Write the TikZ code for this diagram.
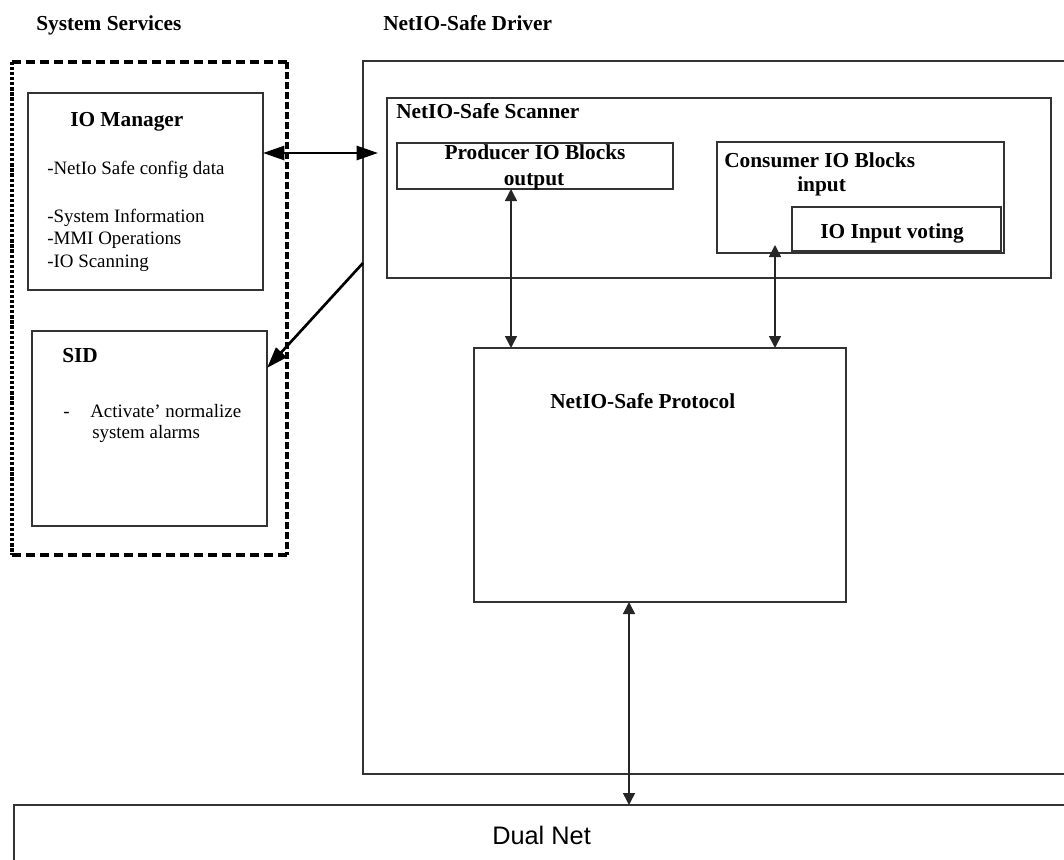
\documentclass[tikz,border=0pt]{standalone}
\usepackage{fontspec}
\setmainfont{Liberation Serif}
\newfontfamily\netfont{Liberation Sans}
\usetikzlibrary{arrows.meta}
\newcommand\upx{0.75pt}
\begin{document}
\begin{tikzpicture}[x=0.75pt, y=-0.75pt,
  box/.style={draw=black!80, line width=0.9pt, anchor=north west, inner sep=0pt, outer sep=0pt},
  frame/.style={anchor=north west, inner sep=0pt, outer sep=0pt},
  title/.style={font=\fontsize{16}{19}\selectfont\bfseries, anchor=base west, inner sep=0pt},
  body/.style={font=\fontsize{14.2}{17}\selectfont, anchor=base west, inner sep=0pt},
  groupside/.style={draw=black, line width=2.3pt, line cap=butt},
  heavylink/.style={line width=2pt, {Triangle[length=16pt,width=10.5pt]}-{Triangle[length=16pt,width=10.5pt]}},
  heavyto/.style={line width=2pt, -{Triangle[length=16pt,width=10.5pt]}},
  link/.style={line width=1.1pt, draw=black!85, {Triangle[length=9pt,width=9pt]}-{Triangle[length=9pt,width=9pt]}}
]
\clip (0,0) rectangle (1064,860);
\fill[white] (0,0) rectangle (1064,860);

% headings
\node[title] (svctitle) at (36,31) {System Services};
\node[title] (drvtitle) at (383,31) {NetIO-Safe Driver};

% system services group (dashed frame)
\node[frame, minimum width=275*\upx, minimum height=493*\upx] (svc) at (12,62) {};
\draw[groupside, dash pattern=on 7pt off 3.5pt] (svc.north west) -- (svc.north east);
\draw[groupside, dash pattern=on 7pt off 3.5pt] (svc.south west) -- (svc.south east);
\draw[groupside, dash pattern=on 5pt off 2.5pt] (svc.north east) -- (svc.south east);
\draw[groupside, dash pattern=on 2.4pt off 1.4pt] (svc.north west) -- (svc.south west);

% IO manager
\node[box, minimum width=235*\upx, minimum height=197*\upx] (iom) at (28,93) {};
\node[title] (iomtitle) at (70,126) {IO Manager};
\node[body] (iom1) at (47,174) {-NetIo Safe config data};
\node[body] (iom2) at (47,222) {-System Information};
\node[body] (iom3) at (47,244) {-MMI Operations};
\node[body] (iom4) at (47,267) {-IO Scanning};

% SID
\node[box, minimum width=235*\upx, minimum height=195*\upx] (sid) at (32,331) {};
\node[title] (sidtitle) at (62,362) {SID};
\node[body] (siddash) at (63,417) {-};
\node[body] (sid1) at (90,417) {Activate' normalize};
\node[body] (sid2) at (92,438) {system alarms};

% driver and scanner
\node[box, minimum width=760*\upx, minimum height=713*\upx] (driver) at (363,61) {};
\node[box, minimum width=664*\upx, minimum height=180*\upx] (scanner) at (387,98) {};
\node[title] (scantitle) at (396,118) {NetIO-Safe Scanner};

\node[box, minimum width=276*\upx, minimum height=46*\upx] (producer) at (397,143) {};
\node[title, anchor=base] (prod1) at (535,159) {Producer IO Blocks};
\node[title, anchor=base] (prod2) at (534,185) {output};

\node[box, minimum width=287*\upx, minimum height=111*\upx] (consumer) at (717,142) {};
\node[title] (cons1) at (724,167) {Consumer IO Blocks};
\node[title] (cons2) at (797,191) {input};

\node[box, minimum width=209*\upx, minimum height=44*\upx] (voting) at (792,207) {};
\node[title] (vote) at (820,238) {IO Input voting};

% protocol
\node[box, minimum width=372*\upx, minimum height=254*\upx] (protocol) at (474,348) {};
\node[title] (prottitle) at (550,408) {NetIO-Safe Protocol};

% network
\node[box, minimum width=1100*\upx, minimum height=120*\upx] (dualnet) at (14,805) {};
\node[anchor=base west, inner sep=0pt, font=\netfont\fontsize{19}{22}\selectfont] (dualtitle) at (492,844) {Dual Net};

% connectors
\coordinate (cfgport) at (378,153);
\coordinate (alarmsrc) at (363,263);
\coordinate (alarmdst) at (267,368);
\coordinate (prodx) at (511,0);
\coordinate (consx) at (775,0);
\coordinate (constip) at (775,245);
\coordinate (netx) at (629,0);

\draw[heavylink] (iom.east |- cfgport) -- (cfgport);
\draw[heavyto] (alarmsrc) -- (alarmdst);
\draw[link] (producer.south -| prodx) -- (protocol.north -| prodx);
\draw[link] (constip) -- (protocol.north -| consx);
\draw[link] (protocol.south -| netx) -- (dualnet.north -| netx);
\end{tikzpicture}
\end{document}
